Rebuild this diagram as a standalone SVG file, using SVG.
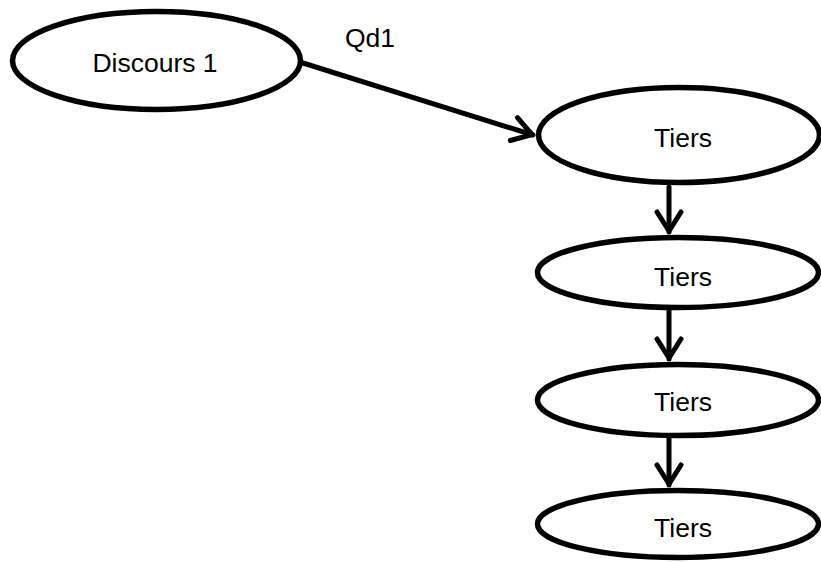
<svg xmlns="http://www.w3.org/2000/svg" width="821" height="562" viewBox="0 0 821 562">
  <defs>
    <style>
      .node ellipse { fill: #ffffff; stroke: #000000; stroke-width: 5.5; }
      .label { font-family: "Liberation Sans", Arial, sans-serif; font-size: 26.5px; fill: #000000; }
      .conn { stroke: #000000; stroke-width: 5; fill: none; stroke-linecap: round; }
    </style>
    <marker id="arrow" markerUnits="userSpaceOnUse" markerWidth="40" markerHeight="40" viewBox="-25 -20 30 40" refX="0" refY="0" orient="auto">
      <path d="M -20 -12 L -1 0 L -20 12" fill="none" stroke="#000000" stroke-width="5" stroke-linecap="round" stroke-linejoin="round"/>
    </marker>
  </defs>
  <rect width="821" height="562" fill="#ffffff"/>

  <g id="connectors">
    <line class="conn" x1="303" y1="63" x2="533" y2="135" marker-end="url(#arrow)"/>
    <line class="conn" x1="669" y1="187" x2="669" y2="232" marker-end="url(#arrow)"/>
    <line class="conn" x1="669" y1="311" x2="669" y2="359" marker-end="url(#arrow)"/>
    <line class="conn" x1="669" y1="439" x2="669" y2="485" marker-end="url(#arrow)"/>
  </g>

  <g id="node-discours" class="node">
    <ellipse cx="156.5" cy="60.5" rx="144" ry="49"/>
    <text class="label" x="155" y="72" text-anchor="middle">Discours 1</text>
  </g>
  <g id="label-qd1">
    <text class="label" x="345" y="47">Qd1</text>
  </g>
  <g id="node-tiers1" class="node">
    <ellipse cx="679" cy="135" rx="140.5" ry="47.5"/>
    <text class="label" x="683" y="147" text-anchor="middle">Tiers</text>
  </g>
  <g id="node-tiers2" class="node">
    <ellipse cx="678" cy="272.5" rx="140.5" ry="35"/>
    <text class="label" x="683" y="286" text-anchor="middle">Tiers</text>
  </g>
  <g id="node-tiers3" class="node">
    <ellipse cx="678" cy="400" rx="140.5" ry="35.5"/>
    <text class="label" x="683" y="411" text-anchor="middle">Tiers</text>
  </g>
  <g id="node-tiers4" class="node">
    <ellipse cx="678" cy="524" rx="140.5" ry="33.5"/>
    <text class="label" x="683" y="537" text-anchor="middle">Tiers</text>
  </g>
</svg>
